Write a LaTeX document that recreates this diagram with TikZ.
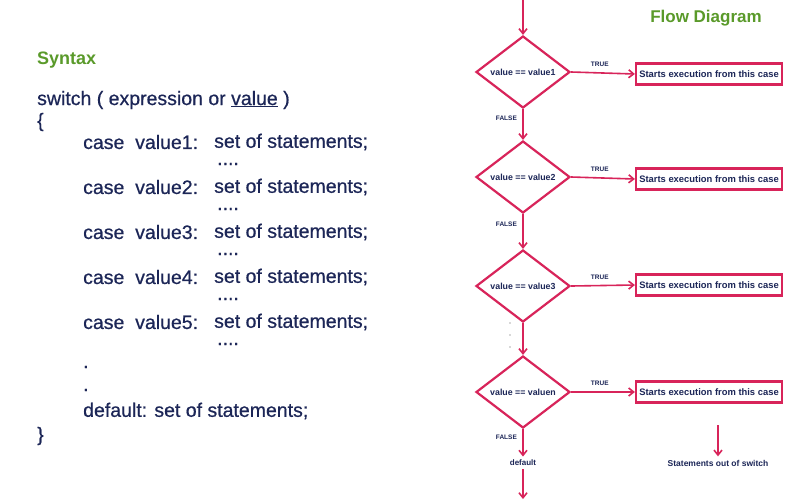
\documentclass[tikz,border=0pt]{standalone}
\usepackage{fontspec}
\setmainfont{Liberation Sans}
\usetikzlibrary{shapes.geometric,arrows.meta}
\definecolor{crim}{HTML}{D8245A}
\definecolor{navy}{HTML}{1C2657}
\definecolor{grn}{HTML}{5A9A2A}
\begin{document}
\begin{tikzpicture}[x=1pt,y=-1pt,
  dia/.style={diamond,draw=crim,line width=2.2pt,minimum width=94pt,minimum height=72pt,inner sep=0pt,text=navy,font=\fontsize{8.8}{9}\selectfont\bfseries},
  box/.style={draw=crim,line width=2.2pt,minimum width=146pt,minimum height=21pt,inner sep=0pt,text=navy,font=\fontsize{9.4}{10}\selectfont\bfseries},
  arr/.style={draw=crim,line width=1.6pt,-{Straight Barb[length=5pt,width=8pt]}},
  lab/.style={text=navy,font=\fontsize{6.5}{7}\selectfont\bfseries},
  code/.style={text=navy,anchor=west,inner sep=0pt,font=\fontsize{19.5}{21}\selectfont},
  codec/.style={code,font=\fontsize{19.5}{21}\selectfont\addfontfeatures{FakeBold=0.6}}]
\useasboundingbox[fill=white] (0,0) rectangle (800,499);
% code
\node[anchor=west,inner sep=0pt,text=grn,font=\fontsize{18}{20}\selectfont\bfseries] (syn) at (37,60) {Syntax};
\node[codec] (sw) at (37,100) {switch ( expression or \underline{value} )};
\node[codec] (ob) at (37,122) {\{};
\foreach \i/\y in {1/142,2/187,3/232,4/277,5/322}{
  \node[codec] (c\i) at (83,\y) {case\ \ value\i:};
  \node[codec] (s\i) at (214,\y) {set of statements;};
  \node[codec] (d\i) at (217,\y+22) {....};
}
\node[codec] (p1) at (83,367) {.};
\node[codec] (p2) at (83,390) {.};
\node[codec] (df) at (83,411) {default: set of statements;};
\node[codec] (cb) at (37,436) {\}};
% flow
\node[text=grn,font=\fontsize{17}{19}\selectfont\bfseries] (fd) at (706,18) {Flow Diagram};
\coordinate (top) at (523,0);
\node[dia] (D1) at (523,72) {value == value1};
\node[dia] (D2) at (523,177) {value == value2};
\node[dia] (D3) at (523,286) {value == value3};
\node[dia] (D4) at (523,392) {value == valuen};
\foreach \i/\y in {1/74,2/179,3/285,4/392}{
  \node[box] (B\i) at (709,\y) {Starts execution from this case};
  \draw[arr] (D\i.east) -- node[lab,above=2pt,pos=0.45]{TRUE} (B\i.west);
}
\draw[arr] (top) -- (D1.north);
\draw[arr] (D1.south) -- node[lab,left=2pt,pos=0.3]{FALSE} (D2.north);
\draw[arr] (D2.south) -- node[lab,left=2pt,pos=0.3]{FALSE} (D3.north);
\draw[arr] (D3.south) -- (D4.north);
\foreach \y in {323,335,347}{\fill[gray!60] (510,\y) circle (0.8pt);}
\node[lab,font=\fontsize{8}{9}\selectfont\bfseries] (def) at (523,463) {default};
\draw[arr] (D4.south) -- node[lab,left=2pt,pos=0.3]{FALSE} (def.north);
\coordinate (bot) at (523,499);
\draw[arr] (def.south) -- (bot);
\coordinate (so) at (718,425);
\node[lab,font=\fontsize{8.5}{9}\selectfont\bfseries] (out) at (718,463) {Statements out of switch};
\draw[arr] (so) -- (out.north);
\end{tikzpicture}
\end{document}
